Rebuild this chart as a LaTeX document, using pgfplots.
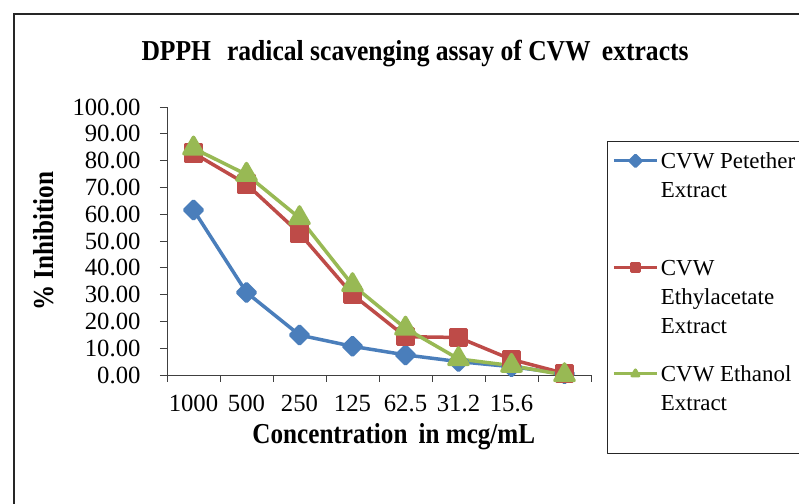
\documentclass[border=0pt]{standalone}
\usepackage{pgfplots}
\pgfplotsset{compat=1.18}
\usepackage{fontspec}
\setmainfont{Liberation Serif}
\definecolor{cblue}{HTML}{4A7EBB}
\definecolor{cred}{HTML}{BE4B48}
\definecolor{cgreen}{HTML}{98B954}
\newcommand{\condbold}{\bfseries\fontsize{29}{29}\selectfont\addfontfeatures{FakeStretch=0.87}}
\newcommand{\titlefont}{\bfseries\fontsize{29}{29}\selectfont\addfontfeatures{FakeStretch=0.885}}
\begin{document}
\begin{tikzpicture}
\useasboundingbox (0,0) rectangle (799bp,504bp);
\fill[white] (0,0) rectangle (799bp,504bp);
\draw[line width=1.3bp, black!85] (14bp,-5bp) -- (14bp,490bp) -- (810bp,490bp);
\begin{axis}[
  at={(167bp,129bp)}, anchor=south west,
  width=424bp, height=268bp, scale only axis,
  xmin=0.5, xmax=8.5, ymin=0, ymax=100,
  axis x line*=bottom, axis y line*=left,
  axis line style={line width=0.9bp, black!75},
  every tick/.style={line width=0.9bp, black!75},
  tick align=outside, major tick length=7bp,
  xtick={0.5,1.5,...,8.5}, xticklabels={},
  extra x ticks={1,2,3,4,5,6,7},
  extra x tick labels={1000,500,250,125,62.5,31.2,15.6},
  extra x tick style={major tick length=0pt, xticklabel style={yshift=-17bp}},
  ytick={0,10,...,100},
  yticklabel style={xshift=-16bp, /pgf/number format/fixed, /pgf/number format/fixed zerofill, /pgf/number format/precision=2},
  /pgf/number format/assume math mode=true,
  tick label style={font=\fontsize{24.8}{24.8}\selectfont},
  ylabel={\% Inhibition},
  ylabel style={font=\condbold, at={(axis description cs:-0.292,0.5)}, anchor=center},
  xlabel={Concentration\, in mcg/mL},
  xlabel style={font=\condbold, at={(axis description cs:0.535,-0.229)}, anchor=center},
  title={DPPH\,\, radical scavenging assay of CVW\, extracts},
  title style={font=\titlefont, at={(axis description cs:0.585,1.178)}, anchor=center},
  legend style={at={(axis description cs:1.0377,0.873)}, anchor=north west,
    draw=black!85, line width=0.9bp, font=\fontsize{23}{29}\selectfont,
    cells={anchor=base west}, nodes={inner sep=0pt, text depth=, text height=},
    inner xsep=5bp, inner ysep=6.7bp, row sep=0pt, column sep=2.5bp},
  legend image code/.code={\draw[mark repeat=2,mark phase=2,#1, line width=3bp, mark size=4bp] plot coordinates {(0bp,7.5bp) (21.5bp,7.5bp) (43bp,7.5bp)};},
  line join=round,
]
\addplot[color=cblue, line width=3.5bp, mark=square*, mark size=6.3bp, mark options={rotate=45, solid}]
  coordinates {(1,61.6) (2,30.8) (3,14.9) (4,10.7) (5,7.5) (6,5.0) (7,3.1) (8,0.5)};
\addplot[color=cred, line width=3.5bp, mark=square*, mark size=8bp, mark options={solid}]
  coordinates {(1,82.8) (2,71.2) (3,52.9) (4,30.0) (5,14.3) (6,14.0) (7,5.8) (8,0.6)};
\addplot[color=cgreen, line width=3.5bp, mark=triangle*, mark size=11bp, mark options={solid}]
  coordinates {(1,84.6) (2,74.8) (3,58.6) (4,33.6) (5,17.4) (6,6.0) (7,3.5) (8,0.0)};
\legend{\parbox[t][107bp][t]{160bp}{\strut CVW Petether\\Extract},
        \parbox[t][106bp][t]{160bp}{\strut CVW\\Ethylacetate\\Extract},
        \parbox[t][86bp][t]{160bp}{\strut CVW Ethanol\\Extract}}
\end{axis}
\end{tikzpicture}
\end{document}
